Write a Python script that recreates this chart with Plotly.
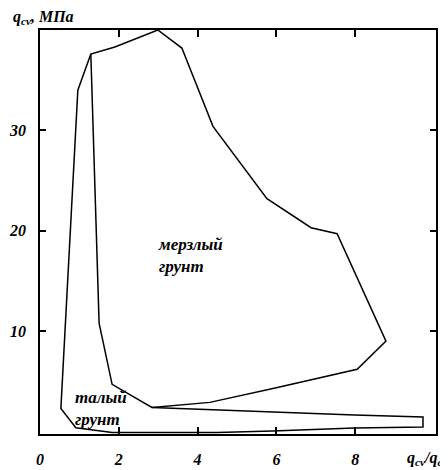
import plotly.graph_objects as go

# Frozen soil region (мерзлый грунт)
frozen_x = [2.99, 3.6, 4.39, 5.76, 6.88, 7.54, 8.78, 8.05, 5.94, 4.31, 2.84, 1.83, 1.5, 1.29, 1.9, 2.99]
frozen_y = [40.0, 38.2, 30.4, 23.2, 20.3, 19.7, 9.0, 6.2, 4.3, 2.9, 2.4, 4.7, 10.8, 37.6, 38.3, 40.0]

# Thawed soil region outline (талый грунт)
thawed_x = [1.29, 0.96, 0.53, 0.91, 1.83, 4.5, 5.9, 7.98, 9.72, 9.72, 7.98, 4.3, 2.84]
thawed_y = [37.6, 34.0, 2.3, 0.38, -0.1, -0.1, 0.05, 0.35, 0.45, 1.45, 1.65, 2.2, 2.4]

x_ticks = [0, 2, 4, 6, 8]
y_ticks = [10, 20, 30]

FONT = "Liberation Serif"
line = dict(color="black", width=1.5)

fig = go.Figure()
fig.add_trace(go.Scatter(x=frozen_x, y=frozen_y, mode="lines", line=line, hoverinfo="skip", cliponaxis=False))
fig.add_trace(go.Scatter(x=thawed_x, y=thawed_y, mode="lines", line=line, hoverinfo="skip", cliponaxis=False))

tickfont = dict(family=FONT, size=16, color="black", style="italic", weight="bold")
# page has an 8px body margin, so the figure is 8px smaller and offset
fig.update_layout(
    width=440, height=462,
    margin=dict(l=32, r=12, t=22, b=36, autoexpand=False),
    paper_bgcolor="white", plot_bgcolor="white",
    showlegend=False,
    xaxis=dict(range=[0, 10.05], tickvals=x_ticks, ticktext=[str(v) for v in x_ticks],
               ticks="inside", ticklen=7, tickwidth=1.5, tickcolor="black",
               showline=True, linecolor="black", linewidth=1.5, mirror="ticks",
               showgrid=False, zeroline=False, tickfont=tickfont, ticklabelstandoff=10,
               automargin=False),
    yaxis=dict(range=[-0.25, 40], tickvals=y_ticks, ticktext=[str(v) for v in y_ticks],
               ticks="inside", ticklen=6, tickwidth=1.5, tickcolor="black",
               showline=True, linecolor="black", linewidth=1.5, mirror="ticks",
               showgrid=False, zeroline=False, tickfont=tickfont, ticklabelstandoff=9,
               automargin=False),
)

afont = dict(family=FONT, size=16, color="black", style="italic", weight="bold")
lfont = dict(family=FONT, size=17, color="black", style="italic", weight="bold")
fig.add_annotation(text="q<sub>cv</sub>, МПа", xref="paper", yref="paper",
                   x=-29/396, y=1 + 12/404, xanchor="left", yanchor="middle",
                   showarrow=False, font=afont)
fig.add_annotation(text="q<sub>cv</sub>/q<sub>ca</sub>", xref="paper", yref="paper",
                   x=(405-40)/396, y=-(458-434)/404, xanchor="left", yanchor="middle",
                   showarrow=False, font=afont)
fig.add_annotation(text="мерзлый<br>грунт", x=2.95, y=17.5, xanchor="left", yanchor="middle",
                   align="left", showarrow=False, font=lfont)
fig.add_annotation(text="талый<br>грунт", x=0.84, y=2.3, xanchor="left", yanchor="middle",
                   align="left", showarrow=False, font=lfont)

fig.write_html("out.html")
